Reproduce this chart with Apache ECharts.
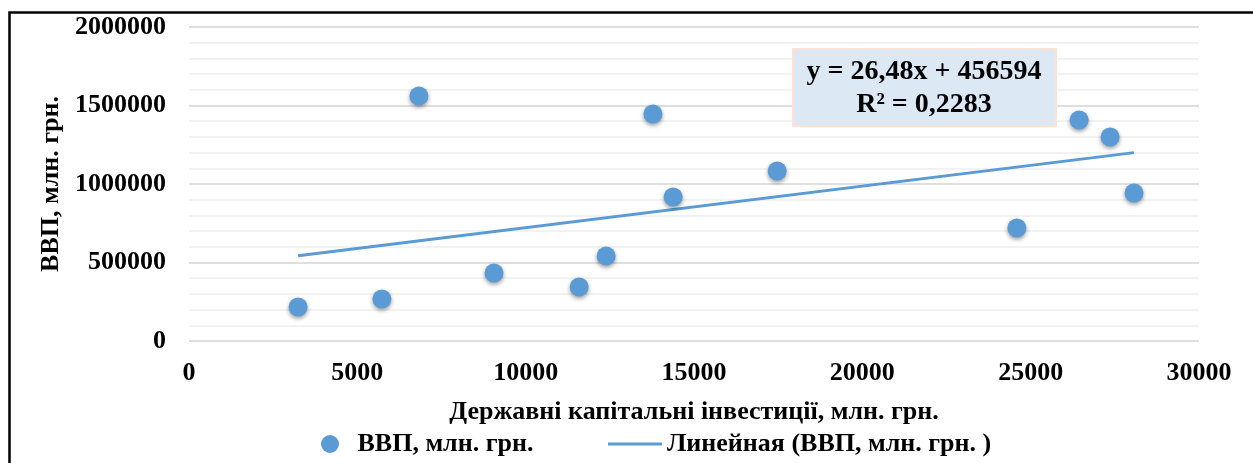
<!DOCTYPE html>
<html>
	<head>
		<meta charset="UTF-8">
		<title>ВВП та державні капітальні інвестиції</title>
		<script src="https://cdn.jsdelivr.net/npm/echarts@6/dist/echarts.min.js"></script>
		<style>
			html, body { margin: 0; padding: 0; background: #fff; }
			#chart { width: 1253px; height: 463px; }
		</style>
	</head>
	<body>
		<div id="chart"></div>
	</body>
	<script type="text/javascript">
		// Державні капітальні інвестиції, млн. грн.
		var invest = [3240, 5730, 6830, 9060, 11590, 12390, 13780, 14380, 17470, 24590, 26440, 27360, 28070];
		// ВВП, млн. грн.
		var gdp = [216000, 268000, 1560000, 433000, 344000, 541000, 1446000, 917000, 1083000, 720000, 1408000, 1299000, 943000];
		// лінійний тренд з рівняння на графіку
		var trendSlope = 26.48;
		var trendIntercept = 456594;
		var trendText = ['y = 26,48x + 456594', 'R² = 0,2283'];
		var xTicks = [0, 30000, 5000];
		var yTicks = [0, 2000000, 500000];

		var blue = '#5b9bd5';
		var font = '"Liberation Serif", "Times New Roman", serif';

		var points = [];
		for (var i = 0; i < invest.length; i++) {
			points.push([invest[i], gdp[i]]);
		}
		var xMin = Math.min.apply(null, invest), xMax = Math.max.apply(null, invest);
		var trend = [
			[xMin, trendSlope * xMin + trendIntercept],
			[xMax, trendSlope * xMax + trendIntercept]
		];

		function plain(v) { return String(v); }

		var vChart = echarts.init(document.getElementById('chart'));
		var option = {
			animation: false,
			textStyle: { fontFamily: font, fontWeight: 'bold', color: '#000' },
			grid: { left: 189, right: 54, top: 27, bottom: 122 },
			xAxis: {
				type: 'value',
				min: xTicks[0], max: xTicks[1], interval: xTicks[2],
				name: 'Державні капітальні інвестиції, млн. грн.',
				nameLocation: 'middle',
				nameGap: 58,
				nameTextStyle: { fontFamily: font, fontWeight: 'bold', fontSize: 26, color: '#000' },
				axisLine: { show: false },
				axisTick: { show: false },
				splitLine: { show: false },
				axisLabel: { margin: 19, formatter: plain, fontFamily: font, fontWeight: 'bold', fontSize: 26, color: '#000' }
			},
			yAxis: {
				type: 'value',
				min: yTicks[0], max: yTicks[1], interval: yTicks[2],
				name: 'ВВП, млн. грн.',
				nameLocation: 'middle',
				nameGap: 123,
				nameTextStyle: { fontFamily: font, fontWeight: 'bold', fontSize: 26, color: '#000' },
				axisLine: { show: false },
				axisTick: { show: false },
				axisLabel: { margin: 23, formatter: plain, fontFamily: font, fontWeight: 'bold', fontSize: 26, color: '#000' },
				splitLine: { lineStyle: { color: '#d4d4d4', width: 1.5 } },
				minorTick: { show: false, splitNumber: 5 },
				minorSplitLine: { show: true, lineStyle: { color: '#eeeeee', width: 1.5 } }
			},
			legend: [{
				left: 316, top: 426,
				itemWidth: 45, itemHeight: 18,
				data: [{ name: 'ВВП, млн. грн.', icon: 'circle' }],
				itemStyle: { opacity: 1 },
				textStyle: { fontFamily: font, fontWeight: 'bold', fontSize: 26, color: '#000' }
			}, {
				left: 603, top: 426,
				itemWidth: 54, itemHeight: 3,
				data: [{ name: 'Линейная (ВВП, млн. грн. )', icon: 'rect' }],
				textStyle: { fontFamily: font, fontWeight: 'bold', fontSize: 26, color: '#000' }
			}],
			graphic: [{
				type: 'rect',
				shape: { x: 9.5, y: 12.5, width: 1400, height: 600 },
				style: { fill: 'none', stroke: '#000', lineWidth: 2.5 },
				silent: true
			}, {
				type: 'rect',
				shape: { x: 793, y: 49, width: 263, height: 77 },
				style: { fill: '#dce8f4', stroke: '#fbe2d2', lineWidth: 2 },
				z: 10
			}, {
				type: 'text',
				x: 924, y: 72,
				style: { text: trendText[0], font: 'bold 28px ' + font, fill: '#000', align: 'center', verticalAlign: 'middle' },
				z: 11
			}, {
				type: 'text',
				x: 924, y: 105,
				style: { text: trendText[1], font: 'bold 28px ' + font, fill: '#000', align: 'center', verticalAlign: 'middle' },
				z: 11
			}],
			series: [{
				name: 'ВВП, млн. грн.',
				type: 'scatter',
				data: points,
				symbolSize: 19,
				itemStyle: {
					color: blue,
					opacity: 1,
					shadowBlur: 4,
					shadowOffsetY: 2,
					shadowColor: 'rgba(0,0,0,0.4)'
				},
				z: 3
			}, {
				name: 'Линейная (ВВП, млн. грн. )',
				type: 'line',
				data: trend,
				symbol: 'none',
				lineStyle: { color: blue, width: 3 },
				itemStyle: { color: blue },
				z: 2
			}]
		};
		vChart.setOption(option);
	</script>
</html>
